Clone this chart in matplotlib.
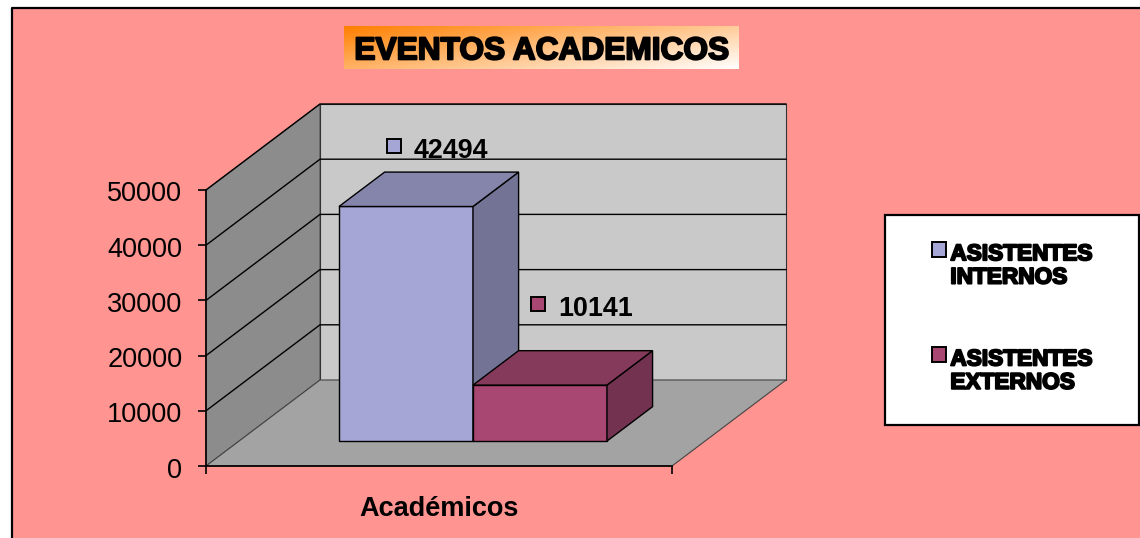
import numpy as np
import matplotlib
matplotlib.use("Agg")
import matplotlib.pyplot as plt
from matplotlib.patches import Polygon, Rectangle
from matplotlib.transforms import offset_copy, ScaledTranslation
import matplotlib.patheffects as pe

# ---- data ----
title = "EVENTOS ACADEMICOS"
category = "Académicos"
series_names = ["ASISTENTES\nINTERNOS", "ASISTENTES\nEXTERNOS"]
series_values = [42494, 10141]
y_ticks = [0, 10000, 20000, 30000, 40000, 50000]

# ---- style ----
W, H = 1140, 538
front_cols = ["#A6A6D6", "#A84872"]
side_cols = ["#737396", "#733250"]
top_cols = ["#8585AB", "#853A5B"]
label_offsets_px = [(-35, 43), (-25, 64)]
PINK = "#FF9491"
plt.rcParams["font.family"] = ["Liberation Sans", "DejaVu Sans"]

fig = plt.figure(figsize=(W / 100, H / 100), dpi=100, facecolor="white")


def fx(px):
    return px / W


def fy(py):
    return 1 - py / H


fig.add_artist(Rectangle((fx(12), 0), 1 - fx(12), fy(8), transform=fig.transFigure,
                         facecolor=PINK, edgecolor="none", zorder=-5))
fig.add_artist(plt.Line2D([fx(12), fx(12), 1], [0, fy(8), fy(8)], transform=fig.transFigure,
                          color="black", lw=1.6, zorder=-4))

# main axes: its rectangle is the front plane of the 3D box
ax = fig.add_axes([fx(206), fy(466), fx(672) - fx(206), fy(190) - fy(466)])
ax.set_xlim(0, 1)
ax.set_ylim(0, 50000)
ax.patch.set_alpha(0)
for s in ("top", "right"):
    ax.spines[s].set_visible(False)
for s in ("left", "bottom"):
    ax.spines[s].set_linewidth(1.2)
    ax.spines[s].set_zorder(20)

# oblique depth vector, in data units, for z = 1
DX = 114 / 466
DY = 86 / 276 * 50000


def proj(x, y, z):
    return (x + z * DX, y + z * DY)


def face(pts, color, ec="black", lw=1.0, z=1):
    ax.add_patch(Polygon([proj(*p) for p in pts], closed=True, facecolor=color,
                         edgecolor=ec, linewidth=lw, clip_on=False, zorder=z))


top = y_ticks[-1]
face([(0, 0, 0), (0, 0, 1), (0, top, 1), (0, top, 0)], "#8C8C8C", ec="#555555", lw=0.8)
face([(0, 0, 1), (1, 0, 1), (1, top, 1), (0, top, 1)], "#C9C9C9", ec="#333333", lw=0.8)
face([(0, 0, 0), (1, 0, 0), (1, 0, 1), (0, 0, 1)], "#A3A3A3", ec="#444444", lw=0.8)

for t in y_ticks[1:]:
    xs, ys = zip(proj(0, t, 0), proj(0, t, 1), proj(1, t, 1))
    ax.plot(xs, ys, color="black", lw=1.0, clip_on=False, zorder=2)

# bars
gap = 0.2145
bw = 0.2875
z0, z1 = 0.29, 0.69
for i, v in enumerate(series_values):
    x0, x1 = gap + i * bw, gap + (i + 1) * bw
    zb = 3 + i
    face([(x0, 0, z0), (x1, 0, z0), (x1, v, z0), (x0, v, z0)], front_cols[i], z=zb)
    face([(x1, 0, z0), (x1, 0, z1), (x1, v, z1), (x1, v, z0)], side_cols[i], z=zb)
    face([(x0, v, z0), (x1, v, z0), (x1, v, z1), (x0, v, z1)], top_cols[i], z=zb)
    ax_x, ax_y = proj((x0 + x1) / 2, v, (z0 + z1) / 2)
    ox, oy = label_offsets_px[i]
    ax.plot([ax_x], [ax_y], marker="s", ms=10, mfc=front_cols[i], mec="black", mew=1.4,
            clip_on=False, zorder=10, ls="none",
            transform=offset_copy(ax.transData, fig=fig, x=ox, y=oy, units="dots"))
    ax.annotate(str(v), xy=(ax_x, ax_y), xytext=(ox + 20, oy - 2), textcoords="offset pixels",
                fontsize=19.4, fontweight="bold", va="center_baseline", ha="left",
                annotation_clip=False, zorder=11)

ax.set_yticks(y_ticks)
ax.set_yticklabels([str(t) for t in y_ticks], fontsize=19.5)
ax.set_xticks([0, 1])
ax.set_xticklabels(["", ""])
ax.tick_params(axis="both", length=5.5, width=1.2, pad=5)
ax.tick_params(axis="y", pad=11.5)
for lab in ax.get_yticklabels():
    lab.set_transform(lab.get_transform() + ScaledTranslation(0, -1.5 / 100, fig.dpi_scale_trans))
ax.set_xlabel(category, fontsize=19.5, fontweight="bold", labelpad=11, x=0.5)

# title box with diagonal gradient
tax = fig.add_axes([fx(344), fy(69), fx(739) - fx(344), fy(26) - fy(69)])
gx, gy = np.meshgrid(np.linspace(0, 1, 200), np.linspace(0, 1, 60))
g = (gx * 0.6 + gy * 0.4)[..., None]
start = np.array([1.0, 0.5, 0.0])
tax.imshow(start + (1 - start) * g, aspect="auto", extent=(0, 1, 0, 1), origin="upper")
tax.axis("off")
tax.text(0.5, 0.41, title, ha="center", va="center", fontsize=22.8, fontweight="bold",
         color="black", transform=tax.transAxes,
         path_effects=[pe.withStroke(linewidth=1.4, foreground="black")])

# legend box
fig.add_artist(Rectangle((fx(885), fy(425)), fx(1139) - fx(885), fy(215) - fy(425),
                         transform=fig.transFigure, facecolor="white", edgecolor="black",
                         linewidth=1.6, zorder=5))
handles = [Rectangle((0, 0), 1, 1, facecolor=c, edgecolor="black", linewidth=1.4) for c in front_cols]
leg = fig.legend(handles, series_names, loc="center",
                 bbox_to_anchor=(fx(1012), fy(318)), frameon=False, handlelength=0.62, handleheight=0.62,
                 handletextpad=0.2, labelspacing=2.6, borderpad=0,
                 prop={"weight": "bold", "size": 16.3})
leg.set_zorder(6)
for hp in leg._legend_handle_box.get_children()[0].get_children():
    hp.align = "top"
for t in leg.get_texts():
    t.set_linespacing(1.02)
    t.set_path_effects([pe.withStroke(linewidth=1.4, foreground="black")])

fig.savefig("out.png", dpi=100, facecolor="white")
